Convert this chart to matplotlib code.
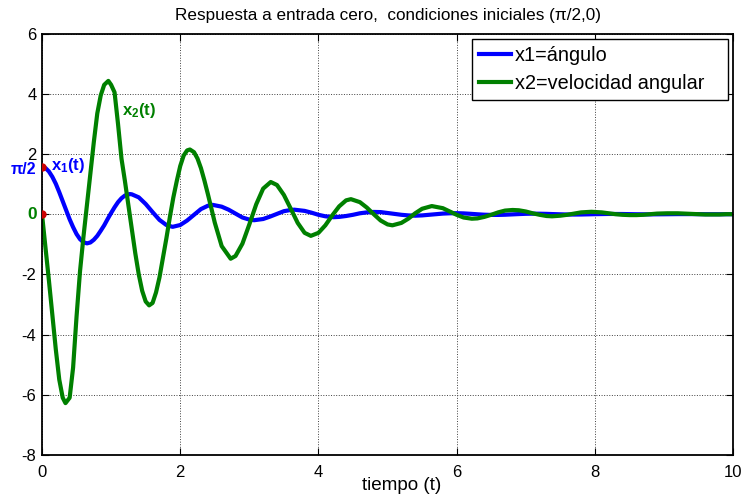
import matplotlib
matplotlib.use('Agg')
import matplotlib.pyplot as plt
import numpy as np

plt.rcParams['font.family'] = ['Liberation Sans', 'DejaVu Sans']
plt.rcParams['axes.unicode_minus'] = False
plt.rcParams['mathtext.fontset'] = 'custom'
plt.rcParams['mathtext.rm'] = 'Liberation Sans'
plt.rcParams['mathtext.bf'] = 'Liberation Sans:bold'
plt.rcParams['mathtext.it'] = 'Liberation Sans:italic'

# x1 = angulo (tiempo t1, valores x1)
t1 = [0.0, 0.05, 0.1, 0.15, 0.2, 0.25, 0.3, 0.35, 0.4, 0.45,
      0.5, 0.55, 0.6, 0.65, 0.7, 0.75, 0.8, 0.85, 0.9, 0.95,
      1.0, 1.05, 1.1, 1.15, 1.2, 1.27, 1.3, 1.4, 1.5, 1.6,
      1.7, 1.8, 1.89, 2.0, 2.1, 2.2, 2.3, 2.4, 2.47, 2.6,
      2.7, 2.8, 2.9, 3.0, 3.07, 3.2, 3.3, 3.4, 3.5, 3.6,
      3.65, 3.8, 3.9, 4.0, 4.1, 4.22, 4.3, 4.4, 4.5, 4.6,
      4.7, 4.8, 4.9, 5.0, 5.1, 5.2, 5.3, 5.4, 5.5, 5.6,
      5.7, 5.8, 5.9, 6.0, 6.1, 6.2, 6.3, 6.4, 6.5, 6.6,
      6.7, 6.8, 6.9, 7.0, 7.1, 7.2, 7.3, 7.4, 7.5, 7.6,
      7.7, 7.8, 7.9, 8.0, 8.2, 8.4, 8.6, 8.8, 9.0, 9.2,
      9.4, 9.6, 9.8, 10.0]
x1 = [1.571, 1.535, 1.42, 1.24, 1.01, 0.73, 0.43, 0.13, -0.17, -0.43,
      -0.66, -0.83, -0.93, -0.97, -0.94, -0.85, -0.72, -0.55, -0.37, -0.16,
      0.04, 0.23, 0.40, 0.53, 0.62, 0.67, 0.66, 0.56, 0.34, 0.07,
      -0.19, -0.36, -0.42, -0.36, -0.21, -0.02, 0.17, 0.28, 0.31, 0.25,
      0.15, 0.02, -0.11, -0.18, -0.20, -0.16, -0.08, 0.01, 0.10, 0.14,
      0.15, 0.11, 0.05, -0.02, -0.07, -0.10, -0.09, -0.06, -0.02, 0.03,
      0.06, 0.075, 0.07, 0.04, 0.01, -0.02, -0.04, -0.05, -0.04, -0.02,
      0.0, 0.02, 0.03, 0.034, 0.027, 0.013, -0.003, -0.017, -0.024, -0.024,
      -0.018, -0.007, 0.004, 0.013, 0.017, 0.016, 0.011, 0.003, -0.004, -0.010,
      -0.012, -0.010, -0.005, 0.001, 0.008, 0.006, -0.002, -0.006, -0.002, 0.003,
      0.003, -0.001, -0.002, 0.0]

# x2 = velocidad angular (tiempo t2, valores x2)
t2 = [0.0, 0.05, 0.1, 0.15, 0.2, 0.25, 0.3, 0.34, 0.4, 0.45,
      0.5, 0.55, 0.6, 0.65, 0.7, 0.75, 0.8, 0.85, 0.9, 0.96,
      1.0, 1.05, 1.1, 1.15, 1.2, 1.25, 1.3, 1.35, 1.4, 1.45,
      1.5, 1.55, 1.6, 1.65, 1.7, 1.75, 1.8, 1.85, 1.9, 1.95,
      2.0, 2.05, 2.1, 2.14, 2.2, 2.25, 2.3, 2.35, 2.4, 2.45,
      2.5, 2.6, 2.73, 2.8, 2.9, 3.0, 3.1, 3.2, 3.31, 3.4,
      3.5, 3.6, 3.7, 3.8, 3.89, 4.0, 4.1, 4.2, 4.3, 4.4,
      4.47, 4.6, 4.7, 4.8, 4.9, 5.0, 5.07, 5.2, 5.3, 5.4,
      5.5, 5.64, 5.8, 5.9, 6.0, 6.1, 6.22, 6.3, 6.4, 6.5,
      6.6, 6.7, 6.81, 6.9, 7.0, 7.1, 7.2, 7.3, 7.38, 7.5,
      7.6, 7.7, 7.8, 7.95, 8.1, 8.2, 8.3, 8.4, 8.5, 8.6,
      8.7, 8.8, 8.9, 9.05, 9.2, 9.3, 9.4, 9.5, 9.6, 9.7,
      9.8, 9.9, 10.0]
x2 = [0.0, -1.1, -2.2, -3.35, -4.5, -5.5, -6.1, -6.28, -6.1, -5.1,
      -3.4, -1.9, -0.75, 0.3, 1.35, 2.4, 3.35, 3.95, 4.3, 4.43,
      4.3, 4.05, 3.0, 1.85, 1.1, 0.3, -0.5, -1.3, -2.0, -2.55,
      -2.9, -3.03, -2.95, -2.6, -2.1, -1.45, -0.8, -0.1, 0.55, 1.1,
      1.6, 1.95, 2.12, 2.15, 2.06, 1.85, 1.53, 1.12, 0.67, 0.2,
      -0.28, -1.06, -1.48, -1.39, -0.98, -0.34, 0.33, 0.85, 1.07, 0.97,
      0.64, 0.18, -0.29, -0.62, -0.72, -0.62, -0.37, -0.04, 0.26, 0.46,
      0.50, 0.40, 0.22, 0.0, -0.21, -0.34, -0.37, -0.29, -0.15, 0.03,
      0.18, 0.27, 0.20, 0.09, -0.02, -0.11, -0.15, -0.14, -0.09, -0.02,
      0.06, 0.12, 0.14, 0.13, 0.09, 0.03, -0.02, -0.06, -0.07, -0.05,
      -0.02, 0.02, 0.06, 0.08, 0.06, 0.03, 0.0, -0.02, -0.03, -0.03,
      -0.02, 0.0, 0.02, 0.03, 0.03, 0.02, 0.01, 0.0, -0.01, -0.01,
      -0.01, 0.0, 0.0]

x_ticks = [0, 2, 4, 6, 8, 10]
y_ticks = [-8, -6, -4, -2, 0, 2, 4, 6]
y_tick_labels = ['-8', '-6', '-4', '-2', '', '2', '4', '6']
x0 = [0.0, np.pi / 2]  # condiciones iniciales

fig = plt.figure(figsize=(7.42, 4.95), dpi=100)
ax = fig.add_axes([0.0566, 0.081, 0.9314, 0.851])

ax.plot(t1, x1, color=(0, 0, 1), lw=3, label='x1=ángulo')
ax.plot(t2, x2, color=(0, 0.5, 0), lw=3, label='x2=velocidad angular   ')
ax.plot([0, 0], [x0[1], x0[0]], 'o', color='#cc0000', ms=5, zorder=5)

ax.set_xlim(0, 10)
ax.set_ylim(-8, 6)
ax.set_xticks(x_ticks)
ax.set_yticks(y_ticks)
ax.set_yticklabels(y_tick_labels)
ax.grid(True, color='0.25', ls=':', lw=0.7)
ax.tick_params(direction='in', top=True, right=True, length=5, labelsize=12)
ax.tick_params(axis='x', pad=7)
ax.tick_params(axis='y', pad=4)
for s in ax.spines.values():
    s.set_linewidth(1.3)

ax.set_title('Respuesta a entrada cero,  condiciones iniciales (π/2,0)', fontsize=12.3, pad=9.5)
fig.text(402 / 742, 1 - 485 / 495, 'tiempo (t)', ha='center', va='center', fontsize=13.6)

# etiquetas
ax.text(-0.08, 1.48, 'π/2', color=(0, 0, 1), fontsize=11.5, fontweight='bold',
        ha='right', va='center', clip_on=False)
ax.text(0.13, 1.62, r'$\mathbf{x_1(t)}$', color=(0, 0, 1), fontsize=12,
        ha='left', va='center')
ax.text(-0.07, 0.0, '0', color=(0, 0.5, 0), fontsize=12.5, fontweight='bold',
        ha='right', va='center', clip_on=False)
ax.text(1.16, 3.45, r'$\mathbf{x_2(t)}$', color=(0, 0.5, 0), fontsize=12,
        ha='left', va='center')

leg = ax.legend(loc='upper right', fontsize=14.3, fancybox=False, framealpha=1,
                edgecolor='black', handlelength=1.6, handletextpad=0.2,
                labelspacing=0.48, borderpad=0.36, borderaxespad=0.25)
leg.get_frame().set_linewidth(1.0)

fig.savefig('out.png', dpi=100)
